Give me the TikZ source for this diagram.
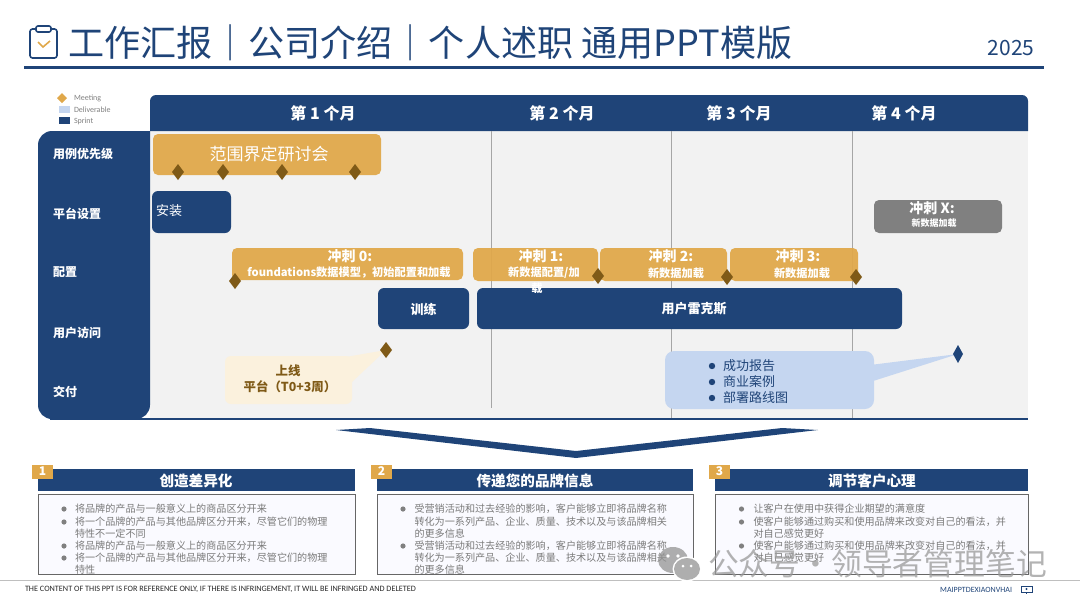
\documentclass[tikz,border=0pt]{standalone}
\usepackage{fontspec}
\setmainfont{Noto Sans CJK SC}
\newfontfamily\smallfont{Carlito}
\usepackage{tikz}
\definecolor{navy}{HTML}{1F4478}
\definecolor{gold}{HTML}{E0A84A}
\definecolor{umber}{HTML}{7F5A17}
\definecolor{skyfill}{HTML}{C5D6F0}
\definecolor{creamfill}{HTML}{FBF1DD}
\definecolor{panelgray}{HTML}{F2F2F2}
\newcommand{\sz}[1]{\fontsize{#1}{#1}\selectfont}
\tikzset{
  word/.style={inner sep=0pt,outer sep=0pt},
  rowname/.style={word,anchor=west,text=white,font=\sz{12}\bfseries},
  month/.style={word,text=white,font=\sz{16}\bfseries},
  sprinthead/.style={word,text=white,font=\sz{14}\bfseries},
  sprintsub/.style={word,text=white,font=\sz{11.2}\bfseries},
  barname/.style={word,text=white,font=\sz{13}\bfseries},
  goldbar/.style={fill=gold,fill opacity=0.94,rounded corners=5},
  navybar/.style={fill=navy,rounded corners=6},
  cardhead/.style={word,text=white,font=\sz{14.6}\bfseries},
  cardnum/.style={word,text=white,font=\sz{12}\bfseries},
  cardline/.style={word,anchor=west,text=black!52,font=\sz{10.1}},
  deliverable/.style={word,anchor=west,text=navy,font=\sz{13}},
  legendword/.style={word,anchor=west,text=black!50,font=\smallfont\sz{8}},
}
\begin{document}
\begin{tikzpicture}[x=1pt,y=-1pt]
    \useasboundingbox (0,0) rectangle (1080,608);
    % title
    \node[word,anchor=west,text=navy,font=\sz{36.1}] (title) at (68,43) {工作汇报｜公司介绍｜个人述职 通用PPT模版};
    \node[word,text=navy,font=\sz{21}] (year) at (1011,48) {2025};
    \draw[navy,line width=2.4pt] (24,67.5) -- (1044,67.5);
    \draw[navy,line width=1.6pt,rounded corners=2.5] (36,29) -- (30,29) -- (30,58) -- (57,58) -- (57,29) -- (51,29);
    \draw[navy,line width=1.6pt,rounded corners=2] (36,26) rectangle (51,32);
    \draw[gold,line width=1.6pt] (38,42) -- (43,47) -- (50,41);
    % legend
    \fill[gold] (57,98) -- (62,93) -- (67,98) -- (62,103) -- cycle;
    \fill[skyfill] (59,106) rectangle (70,113);
    \fill[navy] (59,117) rectangle (70,124);
    \node[legendword] (meeting) at (74,98) {Meeting};
    \node[legendword] (deliver) at (74,110) {Deliverable};
    \node[legendword] (sprint) at (74,121) {Sprint};
    % chart frame
    \fill[panelgray] (150,131) rectangle (1028,419);
    \fill[navy] (150,131) [rounded corners=6] -- (150,95) -- (1028,95) [sharp corners] -- (1028,131) -- cycle;
    \fill[navy] (150,131) [rounded corners=14] -- (38,131) -- (38,419) -- (150,419) [sharp corners] -- cycle;
    \draw[navy,line width=2pt] (50,419) -- (1028,419);
    \draw[black!35,line width=0.6pt] (491,131) -- (491,408);
    \draw[black!35,line width=0.6pt] (671,131) -- (671,418);
    \draw[black!35,line width=0.6pt] (852,131) -- (852,418);
    \node[month] (m1) at (323,113) {第 1 个月};
    \node[month] (m2) at (562,113) {第 2 个月};
    \node[month] (m3) at (739,113) {第 3 个月};
    \node[month] (m4) at (904,113) {第 4 个月};
    \node[rowname] (r1) at (53,153.5) {用例优先级};
    \node[rowname] (r2) at (53,213.5) {平台设置};
    \node[rowname] (r3) at (53,272.5) {配置};
    \node[rowname] (r4) at (53,332.5) {用户访问};
    \node[rowname] (r5) at (53,391.5) {交付};
    % bars
    \path[goldbar] (153,134) rectangle (381,175);
    \node[word,text=white,font=\sz{17}] (scope) at (269,154) {范围界定研讨会};
    \path[navybar] (152,191) rectangle (231,233);
    \node[word,anchor=west,text=white,font=\sz{13}] (install) at (156,211) {安装};
    \path[fill=black!50,rounded corners=5] (874,200) rectangle (1002,233);
    \node[sprinthead] (sx) at (932,208) {冲刺 X:};
    \node[word,text=white,font=\sz{9}\bfseries] (sxsub) at (934,223) {新数据加载};
    \path[navybar] (378,288) rectangle (469,329);
    \node[barname] (train) at (423.5,309) {训练};
    \path[navybar] (477,288) rectangle (902,329);
    \node[barname] (users) at (694,309) {用户雷克斯};
    \path[goldbar] (232,248) rectangle (463,280);
    \path[goldbar] (473,248) rectangle (598,281);
    \path[goldbar] (600,248) rectangle (727,281);
    \path[goldbar] (730,248) rectangle (858,281);
    \node[sprinthead] (s0) at (350,256) {冲刺 0:};
    \node[sprintsub] (s0sub) at (349,273) {foundations数据模型，初始配置和加载};
    \node[sprinthead] (s1) at (541,256) {冲刺 1:};
    \node[sprintsub] (s1sub) at (544,273) {新数据配置/加};
    \node[sprintsub] (s1tail) at (537,288) {载};
    \node[sprinthead] (s2) at (671,256) {冲刺 2:};
    \node[sprintsub] (s2sub) at (676,273) {新数据加载};
    \node[sprinthead] (s3) at (798,256) {冲刺 3:};
    \node[sprintsub] (s3sub) at (802,273) {新数据加载};
    % callouts
    \fill[creamfill,rounded corners=6] (225,356) rectangle (352,404);
    \fill[creamfill] (340,358) -- (386,350) -- (352,382) -- cycle;
    \node[word,text=umber,font=\sz{12.4}\bfseries] (golive) at (288,371) {上线};
    \node[word,text=umber,font=\sz{12.4}\bfseries] (platform) at (290,387) {平台（T0+3周）};
    \fill[skyfill,rounded corners=9] (665,351) rectangle (874,409);
    \fill[skyfill] (870,365) -- (958,354) -- (870,382) -- cycle;
    \foreach \ly/\lt in {366/成功报告,382/商业案例,398/部署路线图}{
        \fill[navy] (712,\ly) circle (3.2);
        \node[deliverable] (d\ly) at (723,\ly) {\lt};
    }
    % milestones
    \foreach \mx/\my in {178/172,223/172,282/172,355/172,235/281,598/276,727/277,856/277,386/350}
        \fill[umber] (\mx-6,\my) -- (\mx,\my-8) -- (\mx+6,\my) -- (\mx,\my+8) -- cycle;
    \fill[navy] (953,354) -- (958,345) -- (963,354) -- (958,363) -- cycle;
    % chevron
    \fill[navy] (336,430) -- (370,428) -- (576,451) -- (782,428) -- (818,430) -- (576,458) -- cycle;
    % cards
    \foreach \bx/\ex/\hx/\hd/\nm in {38/355/196/创造差异化/1,377/693/535/传递您的品牌信息/2,715/1028/872/调节客户心理/3}{
        \fill[navy] (\bx,469) rectangle (\ex,491);
        \fill[gold] (\bx-6,464.5) rectangle (\bx+15,479);
        \node[cardnum] (num\nm) at (\bx+4.5,471.5) {\nm};
        \node[cardhead] (head\nm) at (\hx,481) {\hd};
        \draw[black!60,fill=blue!2,line width=0.7pt] (\bx,494) rectangle (\ex,574);
    }
    \foreach \by in {509,522,546,558}
        \fill[black!50] (64,\by) circle (2.6);
    \foreach \ly/\lt in {509/将品牌的产品与一般意义上的商品区分开来,522/将一个品牌的产品与其他品牌区分开来，尽管它们的物理,534/特性不一定不同,546/将品牌的产品与一般意义上的商品区分开来,558/将一个品牌的产品与其他品牌区分开来，尽管它们的物理,570/特性}
        \node[cardline] (a\ly) at (75,\ly) {\lt};
    \foreach \by in {509,546}
        \fill[black!50] (403,\by) circle (2.6);
    \foreach \ly/\lt in {509/受营销活动和过去经验的影响，客户能够立即将品牌名称,522/转化为一系列产品、企业、质量、技术以及与该品牌相关,534/的更多信息,546/受营销活动和过去经验的影响，客户能够立即将品牌名称,558/转化为一系列产品、企业、质量、技术以及与该品牌相关,570/的更多信息}
        \node[cardline] (b\ly) at (414.5,\ly) {\lt};
    \foreach \by in {509,522,546}
        \fill[black!50] (741.5,\by) circle (2.6);
    \foreach \ly/\lt in {509/让客户在使用中获得企业期望的满意度,522/使客户能够通过购买和使用品牌来改变对自己的看法，并,534/对自己感觉更好,546/使客户能够通过购买和使用品牌来改变对自己的看法，并,558/对自己感觉更好}
        \node[cardline] (c\ly) at (753.5,\ly) {\lt};
    % footer
    \draw[black!25,line width=1pt] (0,580) -- (1080,580);
    \node[word,anchor=west,text=black!85,font=\smallfont\sz{8.2}] (notice) at (25,589.5) {THE CONTENT OF THIS PPT IS FOR REFERENCE ONLY, IF THERE IS INFRINGEMENT, IT WILL BE INFRINGED AND DELETED};
    \node[word,anchor=east,text=navy,font=\smallfont\sz{8}] (brand) at (1012,589.5) {MAIPPTDEXIAONVHAI};
    \draw[navy,line width=0.7pt] (1021,586) rectangle (1032,592);
    \draw[navy,line width=0.7pt] (1026.5,592) -- (1026.5,594);
    \fill[navy] (1026.5,589) circle (1.2);
    % watermark
    \fill[black!42,opacity=0.75] (673,560) ellipse (15 and 13);
    \fill[white] (668,556) circle (1.8);
    \fill[white] (678,556) circle (1.8);
    \fill[white] (687,569) ellipse (14.5 and 12.5);
    \fill[black!42,opacity=0.75] (687,569) ellipse (13 and 11);
    \fill[white] (683,566) circle (1.5);
    \fill[white] (691,566) circle (1.5);
    \node[word,anchor=west,text=black!40,text opacity=0.75,font=\sz{30.8}] (mark) at (708,564) {公众号·领导者管理笔记};
\end{tikzpicture}
\end{document}
